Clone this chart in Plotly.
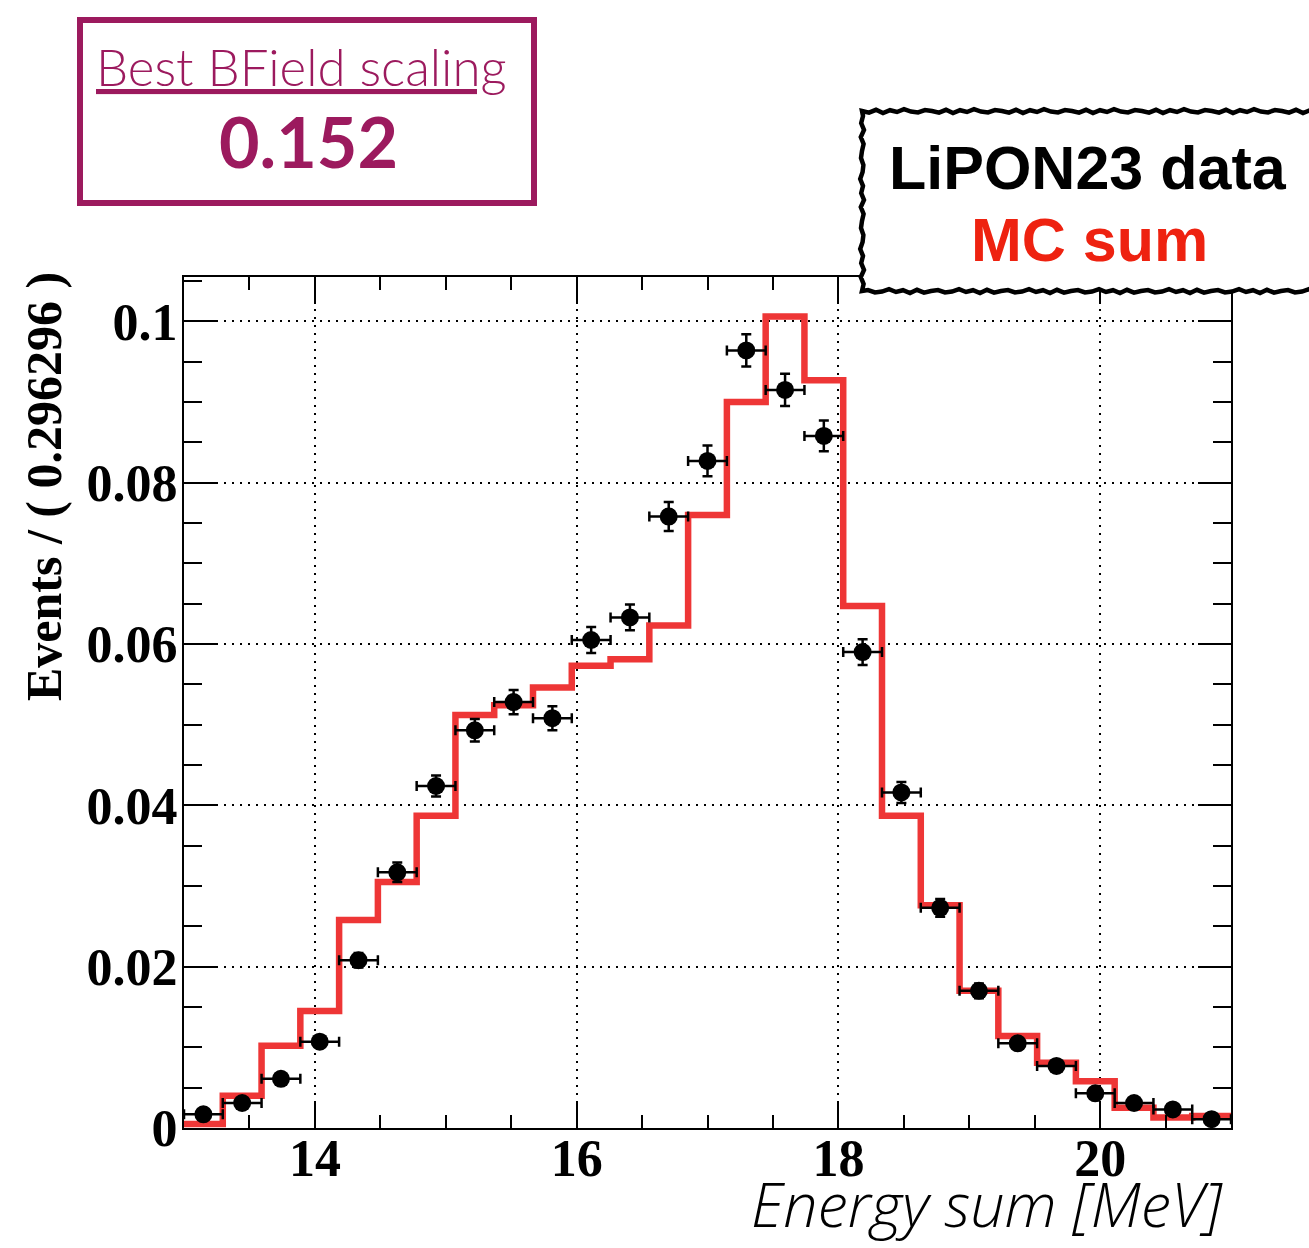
import plotly.graph_objects as go

# ---- data ----
x_lo, x_hi, n_bins = 13.0, 21.0, 27
bin_w = (x_hi - x_lo) / n_bins
bin_edges = [x_lo + i * bin_w for i in range(n_bins + 1)]
bin_centers = [x_lo + (i + 0.5) * bin_w for i in range(n_bins)]

data_vals = [0.0017, 0.0031, 0.0061, 0.0107, 0.0208, 0.0317, 0.0424, 0.0493, 0.0528,
             0.0508, 0.0605, 0.0633, 0.0758, 0.0827, 0.0964, 0.0915, 0.0858, 0.0590,
             0.0416, 0.0273, 0.0170, 0.0105, 0.0077, 0.0043, 0.0031, 0.0023, 0.0011]
data_errs = [0.0003, 0.0004, 0.0005, 0.0007, 0.0009, 0.0012, 0.0013, 0.0014, 0.0015,
             0.0015, 0.0016, 0.0016, 0.0018, 0.0019, 0.0020, 0.0020, 0.0019, 0.0016,
             0.0013, 0.0011, 0.0009, 0.0007, 0.0006, 0.0004, 0.0004, 0.0003, 0.0002]
mc_vals = [0.0005, 0.0040, 0.0102, 0.0145, 0.0258, 0.0305, 0.0387, 0.0512, 0.0524,
           0.0546, 0.0573, 0.0581, 0.0623, 0.0760, 0.0900, 0.1006, 0.0927, 0.0647,
           0.0387, 0.0276, 0.0170, 0.0114, 0.0081, 0.0058, 0.0025, 0.0013, 0.0015]

x_ticks = [14, 16, 18, 20]
y_ticks = [0, 0.02, 0.04, 0.06, 0.08, 0.1]
y_tick_text = ["0", "0.02", "0.04", "0.06", "0.08", "0.1"]

W, H = 1309, 1248
L, R, T, B = 184, 1231, 277, 1128


def px(x):
    return (x - L) / (R - L)


def py(y):
    return (B - y) / (B - T)


PURPLE = "#9C1A5E"
RED_LINE = "#EE3636"
RED_TXT = "#EE2210"

fig = go.Figure()

# MC histogram as step line
fig.add_trace(go.Scatter(
    x=bin_edges, y=mc_vals + [mc_vals[-1]],
    mode="lines", line=dict(color=RED_LINE, width=6.5, shape="hv"),
    showlegend=False, hoverinfo="skip"))

# data points
fig.add_trace(go.Scatter(
    x=bin_centers, y=data_vals, mode="markers",
    marker=dict(color="black", size=18, symbol="circle"),
    error_y=dict(type="data", array=data_errs, color="black", thickness=2.5, width=5),
    error_x=dict(type="constant", value=bin_w / 2, color="black", thickness=2.5, width=5),
    cliponaxis=False, showlegend=False))

axis_common = dict(
    showline=True, linecolor="black", linewidth=2, mirror="ticks",
    ticks="inside", tickcolor="black", tickwidth=2,
    showgrid=True, gridcolor="black", gridwidth=2, griddash="2px,6px",
    zeroline=False, automargin=False,
    tickfont=dict(family="Liberation Serif", size=52, color="black", weight="bold"),
)

fig.update_xaxes(
    range=[x_lo, x_hi], tickvals=x_ticks, ticktext=[str(v) for v in x_ticks],
    ticklen=27, ticklabelstandoff=-16,
    minor=dict(dtick=0.5, tick0=13, ticklen=13, tickwidth=2, tickcolor="black",
               ticks="inside", showgrid=False),
    **axis_common)
fig.update_yaxes(
    range=[0, 0.1055], tickvals=y_ticks, ticktext=y_tick_text,
    ticklen=33, ticklabelstandoff=-6,
    minor=dict(dtick=0.005, tick0=0, ticklen=18, tickwidth=2, tickcolor="black",
               ticks="inside", showgrid=False),
    **axis_common)

# hand-drawn looking border for the legend box (decoration only)
wig = [0.0, 1.6, -1.2, 2.0, -0.8, 1.0, -1.8, 0.6, 1.4, -1.0]


def rough_rect(x0, y0, x1, y1, step=7):
    pts = []
    k = 0
    n = int((x1 - x0) / step)
    for i in range(n + 1):
        pts.append((x0 + i * step, y0 + wig[k % len(wig)])); k += 1
    n = int((y1 - y0) / step)
    for i in range(n + 1):
        pts.append((x1 + wig[k % len(wig)], y0 + i * step)); k += 1
    n = int((x1 - x0) / step)
    for i in range(n + 1):
        pts.append((x1 - i * step, y1 + wig[k % len(wig)])); k += 1
    n = int((y1 - y0) / step)
    for i in range(n + 1):
        pts.append((x0 + wig[k % len(wig)], y1 - i * step)); k += 1
    path = "M " + " L ".join(f"{px(a):.5f},{py(b):.5f}" for a, b in pts) + " Z"
    return path


shapes = [
    # purple box
    dict(type="rect", xref="paper", yref="paper",
         x0=px(80), x1=px(534), y0=py(203), y1=py(20),
         line=dict(color=PURPLE, width=6), fillcolor="white", layer="above"),
    # legend box
    dict(type="path", xref="paper", yref="paper",
         path=rough_rect(862, 111, 1330, 291),
         line=dict(color="black", width=4.5), fillcolor="white", layer="above"),
]

annotations = [
    dict(text="<u>Best BField scaling</u>", x=px(301), y=py(66), xref="paper", yref="paper",
         showarrow=False, xanchor="center", yanchor="middle",
         font=dict(family="Lato", size=51, color=PURPLE, weight=300)),
    dict(text="<b>0.152</b>", x=px(308), y=py(141), xref="paper", yref="paper",
         showarrow=False, xanchor="center", yanchor="middle",
         font=dict(family="Lato", size=70, color=PURPLE, weight="bold")),
    dict(text="<b>LiPON23 data</b>", x=px(1088), y=py(168), xref="paper", yref="paper",
         showarrow=False, xanchor="center", yanchor="middle",
         font=dict(family="Liberation Sans", size=61, color="black")),
    dict(text="<b>MC sum</b>", x=px(1089), y=py(240), xref="paper", yref="paper",
         showarrow=False, xanchor="center", yanchor="middle",
         font=dict(family="Liberation Sans", size=61, color=RED_TXT)),
    dict(text="<b>Events / ( 0.296296 )</b>", x=px(44), y=py(487), xref="paper", yref="paper",
         showarrow=False, xanchor="center", yanchor="middle", textangle=-90,
         font=dict(family="Liberation Serif", size=50, color="black")),
    dict(text="<i>Energy sum [MeV]</i>", x=px(1225), y=py(1247), xref="paper", yref="paper",
         showarrow=False, xanchor="right", yanchor="bottom",
         font=dict(family="Open Sans", size=61, color="black", weight=300, style="italic")),
]

fig.update_layout(
    width=W, height=H, template="none",
    margin=dict(l=L, r=W - R, t=T, b=H - B, pad=0),
    paper_bgcolor="white", plot_bgcolor="white",
    shapes=shapes, annotations=annotations, showlegend=False,
)

fig.write_html("out.html")
